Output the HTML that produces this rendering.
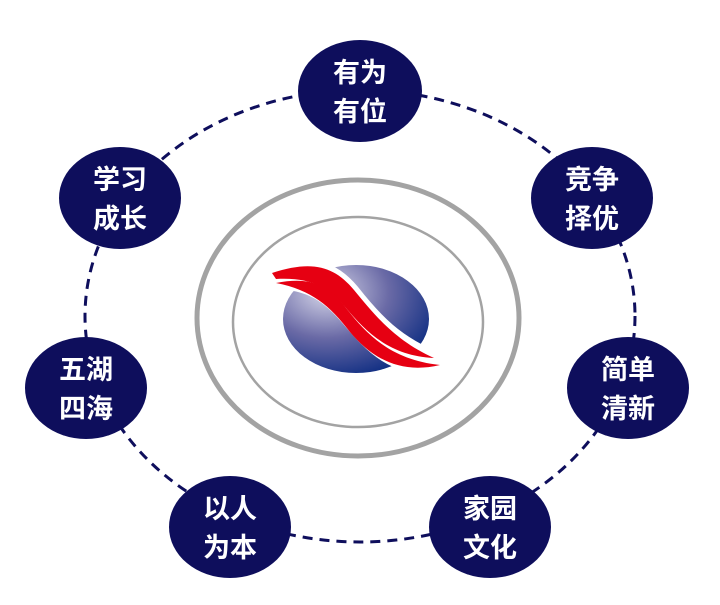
<!DOCTYPE html>
<html><head><meta charset="utf-8"><style>
body{margin:0;background:#fff}
svg text{font-family:"Liberation Sans","Noto Sans CJK SC",sans-serif;font-size:27px;font-weight:bold;fill:#fff;text-anchor:middle}
</style></head><body>
<svg width="720" height="600" viewBox="0 0 720 600" xmlns="http://www.w3.org/2000/svg">
<defs>
<radialGradient id="g" cx="0.3" cy="0.25" r="0.85">
<stop offset="0" stop-color="#d8d8ea"/><stop offset="0.5" stop-color="#6a6aa6"/><stop offset="1" stop-color="#0a2a80"/>
</radialGradient>
</defs>
<ellipse cx="360" cy="316" rx="275" ry="226" fill="none" stroke="#0e0e5c" stroke-width="3" stroke-dasharray="10,7"/>
<ellipse cx="358" cy="318" rx="161" ry="138" fill="none" stroke="#a3a3a3" stroke-width="5"/>
<ellipse cx="358" cy="322" rx="125" ry="105" fill="none" stroke="#a3a3a3" stroke-width="2.5"/>
<ellipse cx="356" cy="319" rx="73" ry="54" fill="url(#g)"/>
<path d="M270,272 C312,258 334,266 354,290 C376,318 398,342 440,358 L440,370 C392,372 370,348 348,322 C328,298 310,284 272,284 Z" fill="#fff" stroke="#fff" stroke-width="10"/>
<path d="M272,273 C312,260 334,266 354,290 C374,314 394,340 434,358 C390,356 366,332 346,308 C330,288 312,277 276,279 Z" fill="#e60012"/>
<path d="M276,283 C312,276 330,286 346,308 C368,336 392,360 440,365 C398,375 370,356 350,332 C330,306 312,290 276,283 Z" fill="#e60012"/>
<g fill="#0e0e5c">
<ellipse cx="360" cy="91" rx="62" ry="51"/>
<ellipse cx="592" cy="198" rx="61" ry="51"/>
<ellipse cx="120" cy="198" rx="61" ry="51"/>
<ellipse cx="86" cy="388" rx="61" ry="51"/>
<ellipse cx="628" cy="388" rx="61" ry="51"/>
<ellipse cx="230" cy="527" rx="61" ry="51"/>
<ellipse cx="490" cy="527" rx="61" ry="51"/>
</g>
<text x="360" y="82">有为</text><text x="360" y="121">有位</text>
<text x="592" y="189">竞争</text><text x="592" y="228">择优</text>
<text x="120" y="189">学习</text><text x="120" y="228">成长</text>
<text x="86" y="379">五湖</text><text x="86" y="418">四海</text>
<text x="628" y="379">简单</text><text x="628" y="418">清新</text>
<text x="230" y="518">以人</text><text x="230" y="557">为本</text>
<text x="490" y="518">家园</text><text x="490" y="557">文化</text>
</svg>
</body></html>
